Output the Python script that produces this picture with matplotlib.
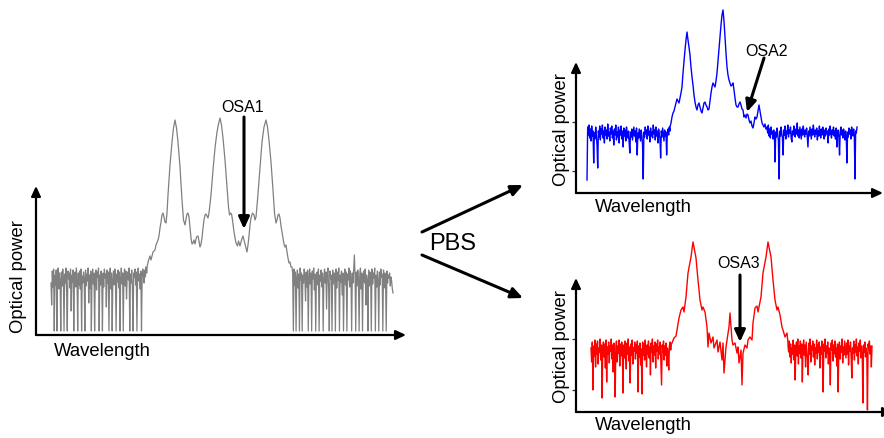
import numpy as np
import matplotlib
matplotlib.use("Agg")
import matplotlib.pyplot as plt

plt.rcParams['font.family'] = ['Liberation Sans', 'DejaVu Sans']

W, H = 884, 438

# ---------------- spectrum at OSA1 (before the PBS) ----------------
osa1_floor_left = [
    52, 30, 64, 48, 66, 4, 60, 50, 65, 4,
    58, 67, 46, 62, 55, 4, 63, 49, 66, 57,
    4, 61, 52, 67, 44, 4, 64, 56, 62, 47,
    66, 24, 60, 53, 65, 4, 58, 63, 48, 67,
    55, 4, 62, 50, 64, 46, 66, 4, 59, 52,
    63, 57, 4, 65, 49, 61, 54, 67, 32, 60,
    47, 64, 4, 58, 66, 51, 62, 4, 56, 65,
    45, 63, 58, 67, 4, 60, 50, 64, 55, 4,
    62, 48, 66, 57, 61, 28, 65, 52, 63, 4,
    59, 67, 46, 62, 4, 55, 64, 50, 66, 58,
    4, 61, 53, 65, 47, 63, 4, 57, 67, 51,
    62, 4, 60, 66, 49, 64, 36, 58, 63, 55,
    67, 4, 61, 52, 65, 48, 4, 62, 58, 66,
    50, 63, 4, 59, 67, 54, 61, 46, 64, 4,
    57, 66, 60, 52, 65, 58, 68, 62, 70, 72]
osa1_peak_x = [
    148, 150, 151, 153, 155, 156, 158, 159, 160, 161, 162, 163, 164, 165, 166,
    167, 168, 170, 172, 173.5, 175, 176.5, 178, 180, 182, 183.5, 185, 186, 187,
    188, 189, 190, 191, 192, 193, 194, 195, 196.5, 198, 199, 200, 201, 202, 203,
    204, 205, 206, 207, 208, 209, 211, 213, 215, 217, 218.5, 220, 221.5, 223,
    225, 227, 228.5, 229.5, 230.5, 231.5, 232.5, 234, 236, 237.5, 238.5, 240,
    241.5, 243, 244, 245, 246, 247, 248, 249, 250, 251, 252.5, 254, 255, 256,
    257.5, 260, 262, 264, 266, 267.5, 269, 271, 273, 274.5, 276, 277, 278, 279,
    280, 281, 282, 283, 284, 285, 286, 287, 288, 289, 290, 291]
osa1_peak_y = [
    73, 79, 75, 83, 85, 90, 95, 99, 107, 113, 120, 122, 118, 113, 112,
    122, 140, 170, 193, 207, 215, 207, 193, 168, 135, 115, 110, 116, 121,
    122, 118, 107, 97, 91, 92, 95, 91, 98, 99, 94, 88, 91, 97, 107,
    115, 120, 121, 119, 117, 122, 140, 165, 187, 203, 211, 217, 210, 197,
    175, 148, 128, 120, 122, 121, 115, 103, 92, 89, 94, 89,
    95, 99, 95, 91, 87, 83, 90, 99, 110, 117, 122, 120, 115, 118,
    135, 168, 193, 208, 215, 208, 195, 173, 145, 122, 112, 115, 120, 121,
    117, 109, 103, 97, 91, 88, 90, 83, 77, 72, 73, 68]
osa1_floor_right = [
    68, 62, 4, 66, 50, 63, 4, 58, 65, 47,
    61, 4, 67, 55, 62, 4, 60, 52, 66, 57,
    34, 63, 48, 65, 4, 59, 66, 51, 62, 4,
    64, 56, 67, 45, 61, 4, 58, 63, 50, 66,
    4, 60, 54, 65, 48, 62, 4, 57, 66, 52,
    63, 26, 61, 67, 49, 4, 64, 56, 60, 4,
    65, 51, 62, 58, 4, 66, 47, 63, 55, 67,
    4, 60, 53, 64, 40, 62, 4, 58, 66, 50,
    63, 4, 61, 55, 67, 48, 64, 57, 4, 62,
    52, 66, 80, 60, 4, 63, 49, 65, 56, 4,
    61, 67, 46, 62, 4, 58, 64, 52, 66, 30,
    60, 55, 4, 65, 49, 63, 58, 4, 66, 51,
    62, 57, 67, 4, 60, 48, 64, 55, 4, 63,
    50, 66, 58, 61, 4, 65, 47, 62, 56, 4,
    64, 52, 60, 57, 62, 49, 58, 54, 46, 42]

# ---------------- spectrum at OSA2 (first PBS port) ----------------
osa2_floor_left = [
    13, 66, 58, 68, 55, 64, 52, 67, 57, 62,
    30, 60, 54, 66, 58, 48, 25, 62, 56, 67,
    53, 64, 59, 68, 55, 62, 50, 66, 58, 63,
    54, 69, 57, 61, 52, 65, 59, 67, 55, 62,
    48, 64, 58, 68, 53, 61, 56, 66, 50, 63,
    58, 67, 54, 62, 46, 65, 57, 63, 52, 66,
    59, 55, 62, 50, 40, 61, 56, 64, 53, 60,
    66, 57, 62, 51, 65, 38, 60, 55, 64, 58,
    52, 63, 57, 48, 14, 61, 56, 66, 59, 63,
    54, 67, 58, 62, 51, 65, 57, 61, 55, 68,
    59, 63, 53, 66, 57, 62, 50, 64, 58, 55,
    35, 62, 56, 65, 59, 52, 63, 57, 61, 38,
    60, 64, 58, 66, 62]
osa2_peak_x = list(range(670, 768))
osa2_peak_y = [
    66, 70, 76, 80, 82, 86, 90, 94, 92, 90,
    95, 100, 106, 120, 132, 143, 153, 161, 153, 146,
    138, 126, 116, 108, 98, 91, 86, 83, 88, 90,
    86, 82, 80, 85, 90, 91, 88, 86, 83, 84,
    92, 100, 106, 110, 108, 106, 112, 120, 132, 145,
    156, 168, 178, 183, 172, 156, 140, 126, 118, 113,
    110, 107, 108, 110, 103, 95, 88, 86, 86, 89,
    91, 88, 84, 83, 76, 78, 75, 79, 78, 73,
    70, 72, 67, 65, 70, 76, 74, 76, 82, 88,
    82, 76, 70, 68, 66, 69, 64, 65]
osa2_floor_right = [
    66, 60, 68, 57, 64, 55, 66, 59, 62, 54,
    63, 58, 31, 61, 56, 65, 59, 52, 14, 62,
    57, 66, 60, 55, 38, 63, 58, 67, 54, 62,
    59, 68, 56, 63, 60, 66, 55, 51, 62, 58,
    67, 61, 56, 64, 59, 70, 57, 63, 55, 66,
    60, 54, 64, 58, 67, 61, 56, 63, 59, 65,
    55, 46, 62, 57, 66, 60, 54, 64, 58, 68,
    61, 56, 63, 59, 65, 53, 62, 57, 67, 60,
    55, 64, 58, 66, 61, 54, 63, 57, 65, 59,
    62, 50, 64, 58, 67, 60, 55, 63, 59, 66,
    57, 62, 54, 65, 46, 60, 63, 56, 38, 61,
    66, 58, 63, 55, 64, 60, 53, 62, 57, 30,
    61, 56, 65, 59, 63, 54, 66, 60, 57, 64,
    58, 14, 62, 60, 66]

# ---------------- spectrum at OSA3 (second PBS port) ----------------
osa3_floor_left = [
    64, 50, 70, 22, 66, 56, 72, 45, 68, 58,
    71, 48, 64, 60, 73, 52, 67, 14, 62, 70,
    55, 68, 44, 72, 30, 65, 58, 70, 49, 66,
    61, 73, 53, 67, 40, 69, 57, 15, 64, 71,
    50, 66, 59, 72, 46, 68, 56, 70, 62, 19,
    67, 54, 71, 60, 43, 69, 58, 73, 51, 65,
    29, 68, 57, 72, 48, 64, 61, 70, 53, 67,
    59, 71, 20, 66, 55, 69, 47, 63, 18, 70,
    57, 68, 52, 72, 61, 45, 67, 58, 71, 54,
    65, 37, 69, 60, 73, 50, 66, 57, 70, 44,
    68, 61, 72, 53, 65, 58, 70, 49, 27, 67,
    60, 71, 52, 66, 57, 69, 46, 64, 59, 42,
    66, 70, 62, 68, 69]
osa3_peak_x = [
    672, 674, 676, 677, 679, 681, 683, 684, 686, 688, 691, 693, 696, 698, 700,
    702, 703, 705, 707, 708, 709, 711, 713, 714, 717, 718, 720, 722, 723, 724,
    726, 727, 729, 730, 731, 732, 733, 735, 737, 738, 739, 741, 742, 743, 745,
    747, 748, 750, 752, 753, 755, 757, 758, 761, 763, 766, 768, 771, 773, 775,
    777, 778, 780, 782, 783, 785, 787, 788]
osa3_peak_y = [
    69, 74, 76, 82, 94, 102, 105, 100, 115, 139, 155, 170, 154, 132, 112,
    102, 105, 100, 85, 65, 79, 69, 75, 64, 72, 60, 70, 52, 69, 39,
    65, 72, 85, 99, 85, 72, 67, 69, 59, 65, 49, 62, 27, 59, 67,
    64, 72, 75, 72, 89, 104, 106, 100, 115, 139, 155, 170, 155, 132, 112,
    102, 105, 97, 85, 82, 75, 79, 69]
osa3_floor_right = [
    66, 60, 71, 55, 68, 49, 64, 58, 72, 52,
    67, 32, 62, 70, 56, 73, 48, 66, 59, 71,
    54, 68, 30, 63, 72, 57, 67, 45, 70, 61,
    52, 37, 69, 58, 73, 50, 66, 62, 71, 55,
    68, 47, 64, 59, 72, 53, 67, 60, 70, 44,
    65, 58, 71, 50, 20, 68, 61, 73, 54, 66,
    59, 70, 48, 64, 57, 27, 69, 62, 72, 51,
    67, 58, 71, 55, 64, 46, 68, 20, 61, 70,
    53, 66, 60, 73, 49, 65, 57, 71, 62, 54,
    69, 58, 72, 47, 66, 61, 70, 55, 34, 64,
    59, 71, 52, 67, 60, 73, 56, 65, 48, 69,
    61, 72, 54, 66, 58, 9, 67, 60, 70, 55,
    64, 57, 2, 68, 62, 71, 58, 66, 45, 66]


def trace(floor_left, span_left, peak_x, peak_y, floor_right, span_right):
    x = np.concatenate([np.linspace(*span_left, len(floor_left)), peak_x,
                        np.linspace(*span_right, len(floor_right))])
    y = np.concatenate([floor_left, peak_y, floor_right])
    return x, y


fig = plt.figure(figsize=(W / 100, H / 100), dpi=100)


def panel(left, right, top, bottom, base):
    """Axes whose x unit is one pixel and whose y is height above `base`."""
    ax = fig.add_axes([left / W, 1 - bottom / H, (right - left) / W, (bottom - top) / H])
    ax.set_xlim(left, right)
    ax.set_ylim(base - bottom, base - top)
    ax.patch.set_visible(False)
    for s in ax.spines.values():
        s.set_visible(False)
    ax.set_xticks([])
    ax.set_yticks([])
    return ax


axis_arrow = dict(arrowstyle="-|>,head_length=6,head_width=2.8", mutation_scale=1,
                  lw=1.6, color="black", shrinkA=0, shrinkB=0)


def draw_axes(ax, x0, xtip, ytip):
    ax.annotate("", xy=(x0, ytip), xytext=(x0, 0), arrowprops=axis_arrow,
                annotation_clip=False)
    ax.annotate("", xy=(xtip, 0), xytext=(x0, 0), arrowprops=axis_arrow,
                annotation_clip=False)


# OSA1 panel
ax1 = panel(28, 410, 95, 342, 335)
x, y = trace(osa1_floor_left, (51, 148), osa1_peak_x, osa1_peak_y,
             osa1_floor_right, (292, 393))
ax1.plot(x, y, color="#808080", lw=0.9)
draw_axes(ax1, 36, 406, 149)

# OSA2 panel
ax2 = panel(566, 884, 0, 200, 193)
x, y = trace(osa2_floor_left, (587, 670), osa2_peak_x, osa2_peak_y,
             osa2_floor_right, (767, 857))
ax2.plot(x, y, color="#0000ff", lw=1.0)
draw_axes(ax2, 576, 883, 131)
ax2.spines['left'].set_position(('data', 576))
ax2.set_yticks([22, 71])
ax2.tick_params(axis='y', length=3, width=0.9, color="#333333", labelleft=False)

# OSA3 panel
ax3 = panel(566, 884, 225, 420, 412)
x, y = trace(osa3_floor_left, (591, 672), osa3_peak_x, osa3_peak_y,
             osa3_floor_right, (788, 872))
ax3.plot(x, y, color="#ff0000", lw=1.0)
draw_axes(ax3, 576, 893, 134)
ax3.spines['left'].set_position(('data', 576))
ax3.set_yticks([22, 73])
ax3.tick_params(axis='y', length=3, width=0.9, color="#333333", labelleft=False)

# Overlay in pixel coordinates for labels and pointers
cv = fig.add_axes([0, 0, 1, 1])
cv.set_xlim(0, W)
cv.set_ylim(H, 0)
cv.axis("off")

lab = dict(fontsize=13.3, ha="center", va="center", color="black")
cv.text(19, 277, "Optical power", rotation=90, **lab)
cv.text(102, 352, "Wavelength", **lab)
cv.text(561, 130, "Optical power", rotation=90, **lab)
cv.text(643, 208, "Wavelength", **lab)
cv.text(562, 347, "Optical power", rotation=90, **lab)
cv.text(643, 425, "Wavelength", **lab)

pointer = dict(arrowstyle="-|>,head_length=7,head_width=3.2", mutation_scale=1,
               lw=2.2, color="black", shrinkA=0, shrinkB=0)
osa = dict(fontsize=11.5, ha="center", va="center")
cv.text(243, 107, "OSA1", **osa)
cv.annotate("", xy=(244, 229), xytext=(244, 117), arrowprops=pointer)
cv.text(767, 51, "OSA2", **osa)
cv.annotate("", xy=(747, 112), xytext=(764, 58), arrowprops=pointer)
cv.text(739, 264, "OSA3", **osa)
cv.annotate("", xy=(740, 342), xytext=(740, 275), arrowprops=pointer)

cv.text(453, 244, "PBS", fontsize=17, ha="center", va="center")
cv.annotate("", xy=(523, 185), xytext=(422, 232), arrowprops=pointer)
cv.annotate("", xy=(523, 298), xytext=(422, 255), arrowprops=pointer)

fig.savefig("out.png", dpi=100)
